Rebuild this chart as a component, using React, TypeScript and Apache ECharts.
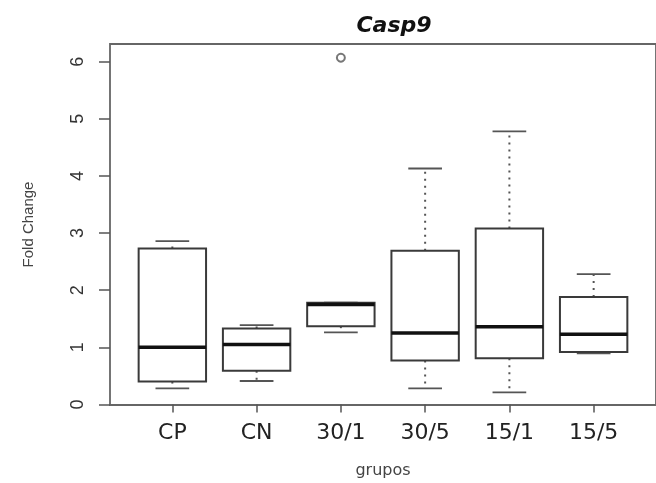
import React, { useEffect, useRef } from "react";
import * as echarts from "echarts";

const categories = ["CP", "CN", "30/1", "30/5", "15/1", "15/5"];
const lowerWhisker = [0.28, 0.41, 1.26, 0.28, 0.21, 0.895];
const q1 = [0.4, 0.59, 1.37, 0.77, 0.81, 0.92];
const median = [1.0, 1.05, 1.75, 1.25, 1.36, 1.23];
const q3 = [2.73, 1.33, 1.78, 2.69, 3.08, 1.88];
const upperWhisker = [2.86, 1.39, 1.78, 4.13, 4.78, 2.28];
const outlierGroup = [3];
const outlierValue = [6.07];
const yTicks = [0, 1, 2, 3, 4, 5, 6];

export default function App() {
  const ref = useRef<HTMLDivElement>(null);
  useEffect(() => {
    if (!ref.current) return;
    const chart = echarts.init(ref.current, null, { renderer: "svg" });
    const positions = categories.map((_, i) => i + 1);
    const boxData = categories.map((_, i) => [
      i + 1,
      lowerWhisker[i],
      q1[i],
      median[i],
      q3[i],
      upperWhisker[i],
    ]);
    const outData = outlierGroup.map((g, i) => [g, outlierValue[i]]);
    chart.setOption({
      animation: false,
      title: {
        text: "Casp9",
        left: 389,
        top: 8,
        textAlign: "center",
        textStyle: {
          fontFamily: "DejaVu Sans",
          fontSize: 22,
          fontWeight: "bold",
          fontStyle: "italic",
          color: "#111",
        },
      },
      grid: {
        left: 110,
        top: 44,
        width: 558,
        height: 361,
        show: true,
        borderColor: "#666",
        borderWidth: 1.8,
        backgroundColor: "transparent",
      },
      xAxis: {
        type: "value",
        min: 0.26,
        max: 6.74,
        splitLine: { show: false },
        axisLine: { show: false },
        axisTick: {
          show: true,
          customValues: positions,
          length: 8,
          lineStyle: { color: "#555", width: 1.5 },
        },
        axisLabel: {
          customValues: positions,
          formatter: (v: number) => categories[Math.round(v) - 1] ?? "",
          fontFamily: "DejaVu Sans",
          fontSize: 22,
          color: "#222",
          margin: 15,
        },
        name: "grupos",
        nameLocation: "middle",
        nameGap: 56,
        nameTextStyle: {
          fontFamily: "DejaVu Sans",
          fontSize: 16,
          color: "#444",
        },
      },
      yAxis: {
        type: "value",
        min: -0.01,
        max: 6.31,
        splitLine: { show: false },
        axisLine: { show: false },
        axisTick: {
          show: true,
          customValues: yTicks,
          length: 11,
          lineStyle: { color: "#555", width: 1.5 },
        },
        axisLabel: {
          customValues: yTicks,
          rotate: 90,
          fontFamily: "Liberation Sans",
          fontSize: 18,
          color: "#333",
          margin: 24,
        },
        name: "Fold Change",
        nameLocation: "middle",
        nameRotate: 90,
        nameGap: 75,
        nameTextStyle: {
          fontFamily: "Liberation Sans",
          fontSize: 15,
          color: "#444",
        },
      },
      series: [
        {
          type: "custom",
          data: boxData,
          encode: { x: 0, y: [1, 2, 3, 4, 5] },
          renderItem: (params: any, api: any) => {
            const x = api.value(0);
            const vMin = api.value(1);
            const vQ1 = api.value(2);
            const vMed = api.value(3);
            const vQ3 = api.value(4);
            const vMax = api.value(5);
            const pMin = api.coord([x, vMin]);
            const pQ1 = api.coord([x, vQ1]);
            const pMed = api.coord([x, vMed]);
            const pQ3 = api.coord([x, vQ3]);
            const pMax = api.coord([x, vMax]);
            const halfW = api.size([0.8, 0])[0] / 2;
            const capHalf = halfW / 2;
            const cx = pMed[0];
            const children: any[] = [];
            const dashStyle = {
              stroke: "#555",
              lineWidth: 2,
              lineDash: [2, 5],
            };
            if (vMax > vQ3) {
              children.push({
                type: "line",
                shape: { x1: cx, y1: pQ3[1], x2: cx, y2: pMax[1] },
                style: dashStyle,
              });
            }
            if (vMin < vQ1) {
              children.push({
                type: "line",
                shape: { x1: cx, y1: pQ1[1], x2: cx, y2: pMin[1] },
                style: dashStyle,
              });
            }
            children.push({
              type: "line",
              shape: { x1: cx - capHalf, y1: pMax[1], x2: cx + capHalf, y2: pMax[1] },
              style: { stroke: "#555", lineWidth: 1.8 },
            });
            children.push({
              type: "line",
              shape: { x1: cx - capHalf, y1: pMin[1], x2: cx + capHalf, y2: pMin[1] },
              style: { stroke: "#555", lineWidth: 1.8 },
            });
            children.push({
              type: "rect",
              shape: {
                x: cx - halfW,
                y: pQ3[1],
                width: halfW * 2,
                height: pQ1[1] - pQ3[1],
              },
              style: { fill: "#fff", stroke: "#3a3a3a", lineWidth: 2 },
            });
            children.push({
              type: "line",
              shape: { x1: cx - halfW, y1: pMed[1], x2: cx + halfW, y2: pMed[1] },
              style: { stroke: "#111", lineWidth: 3.5 },
            });
            return { type: "group", children };
          },
        },
        {
          type: "scatter",
          data: outData,
          symbol: "emptyCircle",
          symbolSize: 8,
          z: 5,
          itemStyle: { color: "#555", borderColor: "#555", borderWidth: 1.4 },
        },
      ],
    });
    return () => chart.dispose();
  }, []);
  return (
    <div
      ref={ref}
      style={{ position: "fixed", left: 0, top: 0, width: 656, height: 483 }}
    />
  );
}
